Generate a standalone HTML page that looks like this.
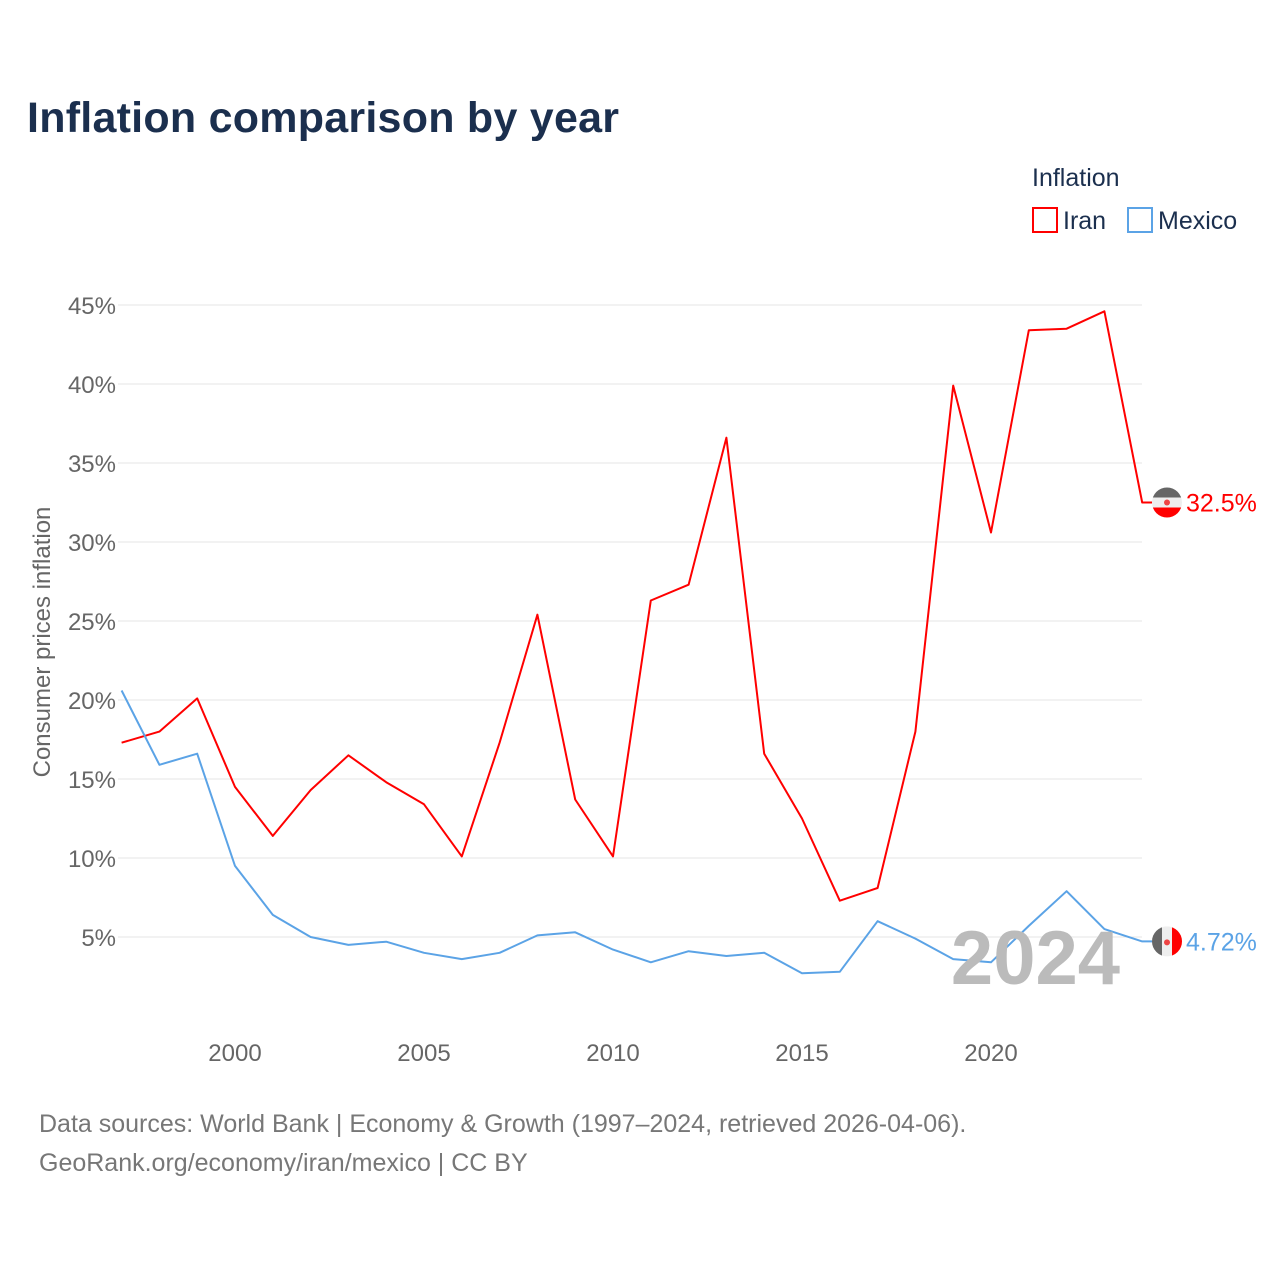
<!DOCTYPE html>
<html><head><meta charset="utf-8"><style>
body{margin:0;background:#fff;font-family:"Liberation Sans",sans-serif}
</style></head><body>
<svg id="chart" width="1280" height="1280" xmlns="http://www.w3.org/2000/svg" font-family="Liberation Sans, sans-serif">
<rect width="1280" height="1280" fill="#fff"/>
<text x="27" y="132" font-size="43" font-weight="bold" fill="#1b2f4e" textLength="592">Inflation comparison by year</text>
<text x="1032" y="186" font-size="25" fill="#1b2f4e">Inflation</text>
<rect x="1033" y="208" width="24" height="24" fill="none" stroke="#ff0000" stroke-width="2"/>
<text x="1063" y="229" font-size="25" fill="#1b2f4e">Iran</text>
<rect x="1128" y="208" width="24" height="24" fill="none" stroke="#5ba3e6" stroke-width="2"/>
<text x="1158" y="229" font-size="25" fill="#1b2f4e">Mexico</text>
<text transform="translate(50,642) rotate(-90)" text-anchor="middle" font-size="24" fill="#666">Consumer prices inflation</text>
<g id="grid"></g><g id="series"></g>
<text x="1120" y="984" text-anchor="end" font-size="76" font-weight="bold" fill="#bbb">2024</text>
<g id="ends"></g>
<text x="39" y="1132" font-size="25" fill="#777">Data sources: World Bank | Economy &amp; Growth (1997–2024, retrieved 2026-04-06).</text>
<text x="39" y="1171" font-size="25" fill="#777">GeoRank.org/economy/iran/mexico | CC BY</text>
</svg>
<script>
const years=[1997,1998,1999,2000,2001,2002,2003,2004,2005,2006,2007,2008,2009,2010,2011,2012,2013,2014,2015,2016,2017,2018,2019,2020,2021,2022,2023,2024];
const iran=[17.3,18.0,20.1,14.5,11.4,14.3,16.5,14.8,13.4,10.1,17.3,25.4,13.7,10.1,26.3,27.3,36.6,16.6,12.5,7.3,8.1,18.0,39.9,30.6,43.4,43.5,44.6,32.5];
const mexico=[20.6,15.9,16.6,9.5,6.4,5.0,4.5,4.7,4.0,3.6,4.0,5.1,5.3,4.2,3.4,4.1,3.8,4.0,2.7,2.8,6.0,4.9,3.6,3.4,5.7,7.9,5.5,4.72];
const yTicks=[5,10,15,20,25,30,35,40,45];
const xTicks=[2000,2005,2010,2015,2020];
const NS="http://www.w3.org/2000/svg";
const x=v=>121.6+(v-1997)*37.8;
const y=v=>1016-v*15.8;
function mk(t,a,p){const e=document.createElementNS(NS,t);for(const k in a)e.setAttribute(k,a[k]);p.appendChild(e);return e;}
const g=document.getElementById('grid');
yTicks.forEach(t=>{
 const l=mk('line',{x1:118,x2:1142,y1:y(t),y2:y(t),stroke:'#e6e6e6','stroke-width':1},g);
 
 
 const tx=mk('text',{x:116,y:y(t)+9,'text-anchor':'end','font-size':24,fill:'#666'},g);
 
 
 tx.textContent=t+'%';
});
xTicks.forEach(t=>{
 const tx=mk('text',{x:x(t),y:1061,'text-anchor':'middle','font-size':24,fill:'#666'},g);
 
 
 tx.textContent=t;
});
const s=document.getElementById('series'),e=document.getElementById('ends');
function line(d,c,name,label,vertical){
 let p=d.map((v,i)=>(i?'L':'M')+x(years[i]).toFixed(1)+','+y(v).toFixed(1)).join('');
 const last=d[d.length-1];
 const cy=y(last);
 p+='L1152,'+cy.toFixed(1);
 const pa=mk('path',{d:p,fill:'none',stroke:c,'stroke-width':2,'stroke-linejoin':'round'},s);
 
 
 const fg=mk('g',{},e);
 
 
 const cp=mk('clipPath',{id:'clip-'+name},fg);
 mk('circle',{cx:1167,cy:cy,r:15},cp);
 const inner=mk('g',{'clip-path':'url(#clip-'+name+')'},fg);
 mk('rect',{x:1152,y:cy-15,width:30,height:30,fill:'#eee'},inner);
 if(vertical){
  mk('rect',{x:1152,y:cy-15,width:10,height:30,fill:'#666'},inner);
  mk('rect',{x:1172,y:cy-15,width:10,height:30,fill:'#f00'},inner);
  mk('circle',{cx:1167,cy:cy+1,r:3,fill:'#e44'},inner);
 }else{
  mk('rect',{x:1152,y:cy-15,width:30,height:10,fill:'#666'},inner);
  mk('rect',{x:1152,y:cy+5,width:30,height:10,fill:'#f00'},inner);
  mk('circle',{cx:1167,cy:cy,r:3,fill:'#e44'},inner);
 }
 const t=mk('text',{x:1186,y:cy+9,'font-size':25,fill:c},e);
 
 
 t.textContent=label;
}
line(iran,'#ff0000','iran','32.5%',false);
line(mexico,'#5ba3e6','mexico','4.72%',true);
</script>
</body></html>
